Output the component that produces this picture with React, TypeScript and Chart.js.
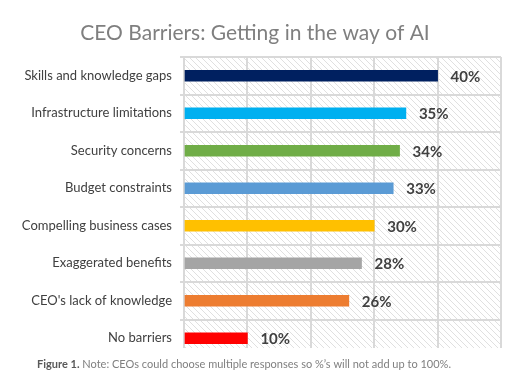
import React, { useEffect, useRef } from "react";
import { Chart, registerables } from "chart.js";
Chart.register(...registerables);

const categories = [
  "Skills and knowledge gaps",
  "Infrastructure limitations",
  "Security concerns",
  "Budget constraints",
  "Compelling business cases",
  "Exaggerated benefits",
  "CEO's lack of knowledge",
  "No barriers",
];
const values = [40, 35, 34, 33, 30, 28, 26, 10];
const barColors = ["#002060", "#00b0f0", "#70ad47", "#5b9bd5", "#ffc000", "#a5a5a5", "#ed7d31", "#ff0000"];
const xMin = 0;
const xMax = 50;
const xStep = 10;
const titleText = "CEO Barriers: Getting in the way of AI";
const noteBold = "Figure 1.";
const noteText = " Note: CEOs could choose multiple responses so %\u2019s will not add up to 100%.";

const FONT = "Lato, 'Open Sans', sans-serif";
const GRID = "#d9d9d9";
const CLIP_BOTTOM = 348;

function makePattern(ctx: CanvasRenderingContext2D) {
  const s = 6;
  const c = document.createElement("canvas");
  c.width = s;
  c.height = s;
  const p = c.getContext("2d")!;
  p.strokeStyle = "#e0e0e0";
  p.lineWidth = 1;
  for (let k = -1; k <= 1; k++) {
    p.beginPath();
    p.moveTo(k * s, 0);
    p.lineTo(k * s + s, s);
    p.stroke();
  }
  return ctx.createPattern(c, "repeat")!;
}

const decorPlugin = {
  id: "decor",
  beforeDraw(chart: any) {
    const { ctx, chartArea, width, height } = chart;
    ctx.save();
    ctx.fillStyle = "#ffffff";
    ctx.fillRect(0, 0, width, height);
    ctx.fillStyle = makePattern(ctx);
    ctx.fillRect(chartArea.left, chartArea.top, chartArea.right - chartArea.left, CLIP_BOTTOM - chartArea.top);
    ctx.restore();
  },
  afterDraw(chart: any) {
    const { ctx, width } = chart;
    ctx.save();
    // clip the last band like the cropped original
    ctx.fillStyle = "#ffffff";
    ctx.fillRect(0, CLIP_BOTTOM, width, chart.height - CLIP_BOTTOM);

    // value labels
    const meta = chart.getDatasetMeta(0);
    ctx.font = `bold 15px ${FONT}`;
    ctx.fillStyle = "#404040";
    ctx.textAlign = "left";
    ctx.textBaseline = "middle";
    meta.data.forEach((bar: any, i: number) => {
      ctx.fillText(`${values[i]}%`, bar.x + 13, bar.y + 1);
    });

    // title
    ctx.font = `21px ${FONT}`;
    ctx.fillStyle = "#7f7f7f";
    ctx.textAlign = "center";
    ctx.textBaseline = "alphabetic";
    ctx.fillText(titleText, 255, 40);

    // footnote
    ctx.textAlign = "left";
    ctx.font = `bold 11px ${FONT}`;
    ctx.fillStyle = "#595959";
    ctx.fillText(noteBold, 37, 368);
    const w = ctx.measureText(noteBold).width;
    ctx.font = `11px ${FONT}`;
    ctx.fillStyle = "#7f7f7f";
    ctx.fillText(noteText, 37 + w, 368);
    ctx.restore();
  },
};

export default function App() {
  const ref = useRef<HTMLCanvasElement>(null);
  useEffect(() => {
    if (!ref.current) return;
    const chart = new Chart(ref.current, {
      type: "bar",
      data: {
        labels: categories,
        datasets: [
          {
            data: values,
            backgroundColor: barColors,
            borderWidth: 0,
            barThickness: 11,
          },
        ],
      },
      options: {
        indexAxis: "y",
        animation: false,
        responsive: false,
        maintainAspectRatio: false,
        layout: { padding: { top: 57, right: 22, bottom: 30, left: 0 } },
        plugins: { legend: { display: false }, tooltip: { enabled: false }, title: { display: false } },
        scales: {
          x: {
            min: xMin,
            max: xMax,
            ticks: { stepSize: xStep, display: false },
            grid: { color: GRID, lineWidth: 2, drawTicks: false, tickLength: 0 },
            border: { display: false },
            afterFit: (s: any) => {
              s.height = 0;
            },
          },
          y: {
            grid: { color: GRID, lineWidth: 2, offset: true, drawTicks: true, tickLength: 4 },
            border: { display: true, color: GRID, width: 2 },
            ticks: {
              color: "#404040",
              font: { family: FONT, size: 13 },
              padding: 8,
              autoSkip: false,
            },
            afterFit: (s: any) => {
              s.width = 184;
            },
          },
        },
      },
      plugins: [decorPlugin],
    });
    return () => chart.destroy();
  }, []);
  return (
    <div style={{ position: "absolute", left: 0, top: 0, width: 523, height: 387 }}>
      <canvas ref={ref} width={523} height={387} />
    </div>
  );
}
